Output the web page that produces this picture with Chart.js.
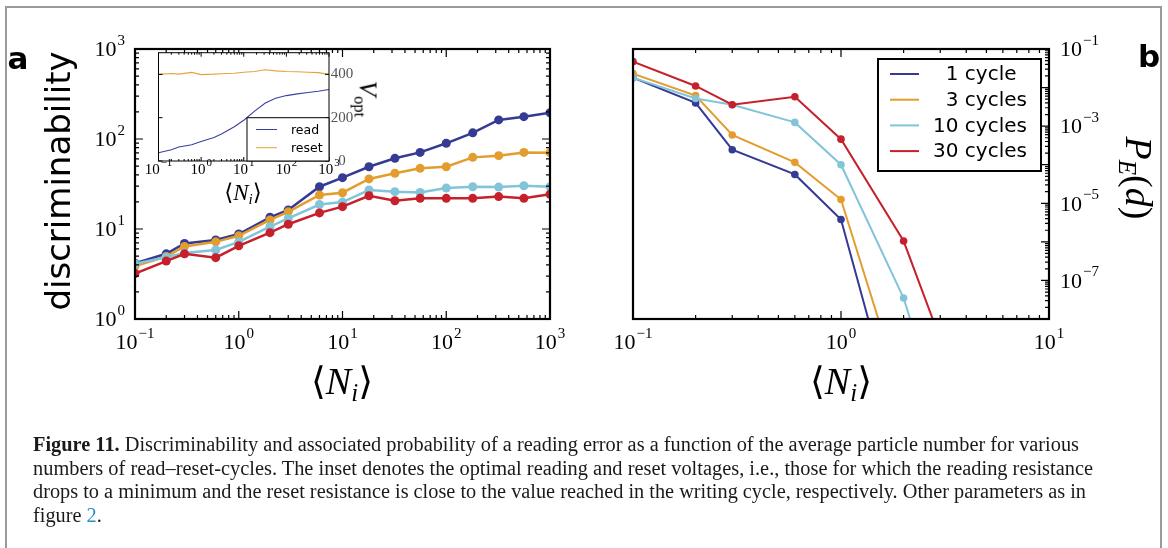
<!DOCTYPE html>
<html>
<head>
<meta charset="utf-8">
<script src="https://cdn.jsdelivr.net/npm/chart.js@4.4.1/dist/chart.umd.min.js"></script>
<style>
  html, body { margin: 0; padding: 0; background: #fff; }
  body { width: 1168px; height: 548px; position: relative; overflow: hidden; font-family: "DejaVu Sans", sans-serif; }
  canvas { position: absolute; left: 0; top: 0; }
  .frame { position: absolute; left: 5px; top: 6px; width: 1157px; height: 600px; border: 2px solid #9a9a9a; box-sizing: border-box; }
  .lbl { position: absolute; transform: translate(-50%, -50%); white-space: nowrap; line-height: 1; color: #000; }
  .math { font-family: "Liberation Serif", "DejaVu Serif", serif; }
  .math sub { font-size: 0.66em; vertical-align: -0.28em; line-height: 0; }
  .cap { position: absolute; left: 33px; font-family: "Liberation Serif", serif; font-size: 20.5px; line-height: 24px; white-space: nowrap; transform-origin: 0 0; color: #1a1a1a; }
  .cap a { color: #2a8fc4; text-decoration: none; }
</style>
</head>
<body>
<div class="frame"></div>
<canvas id="cA" width="1168" height="548"></canvas>
<canvas id="cB" width="1168" height="548"></canvas>
<canvas id="cIn" width="1168" height="548"></canvas>

<div class="lbl" style="left:18px;top:58px;font-weight:bold;font-size:31px;">a</div>
<div class="lbl" style="left:1149px;top:56px;font-weight:bold;font-size:31px;">b</div>
<div class="lbl" id="ylabA" style="left:58px;top:181px;font-size:34px;transform:translate(-50%,-50%) rotate(-90deg);">discriminability</div>
<div class="lbl math" style="left:1139px;top:178px;font-size:38px;transform:translate(-50%,-50%) rotate(90deg);"><i>P</i><sub><i>E</i></sub>(<i>d</i>)</div>
<div class="lbl math" style="left:342px;top:381px;font-size:38px;">⟨<i>N</i><sub><i>i</i></sub>⟩</div>
<div class="lbl math" style="left:841px;top:381px;font-size:38px;">⟨<i>N</i><sub><i>i</i></sub>⟩</div>
<div class="lbl math" style="left:243px;top:192px;font-size:23px;">⟨<i>N</i><sub><i>i</i></sub>⟩</div>
<div class="lbl math" style="left:368px;top:99px;font-size:25px;transform:translate(-50%,-50%) rotate(90deg);"><i>V</i><sub>opt</sub></div>

<div class="cap" data-w="1046" style="top:432px;"><b>Figure 11.</b> Discriminability and associated probability of a reading error as a function of the average particle number for various</div>
<div class="cap" data-w="1060" style="top:456px;">numbers of read–reset-cycles. The inset denotes the optimal reading and reset voltages, i.e., those for which the reading resistance</div>
<div class="cap" data-w="1053" style="top:479px;">drops to a minimum and the reset resistance is close to the value reached in the writing cycle, respectively. Other parameters as in</div>
<div class="cap" data-w="0" style="top:503px;">figure <a>2</a>.</div>

<script>
// ---------- DATA ----------
const nA = [0.1, 0.2, 0.3, 0.6, 1, 2, 3, 6, 10, 18, 32, 56, 100, 180, 320, 560, 1000];
const disc1 = [4.16, 5.3, 6.9, 7.55, 8.8, 13.5, 16.3, 29.5, 37.2, 49.2, 61, 71, 89.6, 117, 163, 177, 196];
const disc3 = [3.88, 4.95, 6.4, 7.2, 8.4, 12.6, 15.5, 23.9, 25.3, 36, 41.6, 47.2, 49.2, 62.5, 65.3, 71, 70.5];
const disc10 = [4.1, 4.85, 5.4, 5.85, 7.2, 10.6, 13.1, 18.7, 19.9, 27.1, 26, 25.5, 28.5, 29.5, 29.2, 30.2, 29.5];
const disc30 = [3.2, 4.4, 5.3, 4.8, 6.5, 9.1, 11.3, 15.1, 17.7, 23.4, 20.6, 21.9, 21.9, 21.9, 22.9, 21.9, 24.3];

const vRead = [38, 52, 65, 75, 90, 108, 125, 158, 188, 230, 268, 290, 302, 310, 316, 322, 330];
const vReset = [400, 404, 401, 409, 399, 401, 403, 405, 410, 413, 421, 416, 413, 412, 410, 408, 400];

const nB = [0.1, 0.2, 0.3, 0.6, 1, 2, 3];
const pe1 = [1.8e-2, 4e-3, 2.45e-4, 5.6e-5, 3.8e-6, 4.5e-12, null];
const pe3 = [2.3e-2, 6.2e-3, 5.9e-4, 1.15e-4, 1.25e-5, 8e-11, null];
const pe10 = [1.8e-2, 5.2e-3, 3.6e-3, 1.25e-3, 1.0e-4, 3.5e-8, 3e-11];
const pe30 = [4.7e-2, 1.1e-2, 3.6e-3, 5.8e-3, 4.6e-4, 1.05e-6, 3e-9];

const cycleLabels = ['  1 cycle', '  3 cycles', '10 cycles', '30 cycles'];
const cycleColors = ['#353a93', '#e39d2e', '#82c4d9', '#c6212b'];
const insetLabels = ['read', 'reset'];
const insetColors = ['#3b40a0', '#e5a23c'];

const expA_x = [-1, 0, 1, 2, 3];
const expA_y = [0, 1, 2, 3];
const expB_x = [-1, 0, 1];
const expB_y = [-1, -3, -5, -7];
const insetY = [0, 200, 400];

// ---------- HELPERS ----------
const SERIF = '"Liberation Serif", "DejaVu Serif", serif';

function logTicks(min, max) {
  const out = [];
  for (let d = Math.floor(Math.log10(min)); d <= Math.ceil(Math.log10(max)); d++) {
    for (let m = 1; m < 10; m++) {
      const v = m * Math.pow(10, d);
      if (v >= min * 0.999 && v <= max * 1.001) out.push({ v, major: m === 1 });
    }
  }
  return out;
}

function drawTicks(ctx, a, scale, ticks, sides, majLen, minLen) {
  ctx.beginPath();
  ticks.forEach(t => {
    const p = scale.getPixelForValue(t.v);
    const L = t.major ? majLen : minLen;
    sides.forEach(s => {
      if (s === 'bottom') { ctx.moveTo(p, a.bottom); ctx.lineTo(p, a.bottom - L); }
      if (s === 'top') { ctx.moveTo(p, a.top); ctx.lineTo(p, a.top + L); }
      if (s === 'left') { ctx.moveTo(a.left, p); ctx.lineTo(a.left + L, p); }
      if (s === 'right') { ctx.moveTo(a.right, p); ctx.lineTo(a.right - L, p); }
    });
  });
  ctx.stroke();
}

// "10" with a superscript exponent; y is the vertical centre of the "10"
function pow10(ctx, exp, x, y, size, align) {
  const e = exp < 0 ? '\u2212' + (-exp) : String(exp);
  const big = size + 'px ' + SERIF;
  const small = Math.round(size * 0.7) + 'px ' + SERIF;
  ctx.font = big; const wb = ctx.measureText('10').width;
  ctx.font = small; const we = ctx.measureText(e).width;
  const tot = wb + 1 + we;
  const x0 = align === 'center' ? x - tot / 2 : align === 'right' ? x - tot : x;
  const base = y + size * 0.33;
  ctx.fillStyle = '#000'; ctx.textAlign = 'left'; ctx.textBaseline = 'alphabetic';
  ctx.font = big; ctx.fillText('10', x0, base);
  ctx.font = small; ctx.fillText(e, x0 + wb + 1, base - size * 0.52);
}

function lineDs(label, xs, ys, color, extra) {
  return Object.assign({
    label: label,
    data: xs.map((x, i) => ({ x: x, y: ys[i] })),
    borderColor: color,
    backgroundColor: color,
    pointBackgroundColor: color,
    pointBorderWidth: 0,
    borderWidth: 2.5,
    pointRadius: 4.5,
    tension: 0,
    clip: 0
  }, extra || {});
}

const common = {
  responsive: false,
  animation: false,
  devicePixelRatio: 1,
  events: [],
  plugins: { legend: { display: false }, tooltip: { enabled: false } }
};

// ---------- PANEL A ----------
const axesA = {
  id: 'axesA',
  afterDatasetsDraw(chart) {
    const { ctx, chartArea: a, scales: { x, y } } = chart;
    ctx.save();
    ctx.strokeStyle = '#000';
    ctx.lineWidth = 1.2;
    drawTicks(ctx, a, x, logTicks(0.1, 1000), ['bottom', 'top'], 8, 4);
    drawTicks(ctx, a, y, logTicks(1, 1000), ['left', 'right'], 8, 4);
    ctx.lineWidth = 2.2;
    ctx.strokeRect(a.left, a.top, a.right - a.left, a.bottom - a.top);
    expA_x.forEach(e => pow10(ctx, e, x.getPixelForValue(Math.pow(10, e)), a.bottom + 23, 22, 'center'));
    expA_y.forEach(e => pow10(ctx, e, a.left - 10, y.getPixelForValue(Math.pow(10, e)), 22, 'right'));
    ctx.restore();
  }
};

new Chart(document.getElementById('cA'), {
  type: 'line',
  data: {
    datasets: [
      lineDs(cycleLabels[0], nA, disc1, cycleColors[0], { order: 3 }),
      lineDs(cycleLabels[1], nA, disc3, cycleColors[1], { order: 2 }),
      lineDs(cycleLabels[2], nA, disc10, cycleColors[2], { order: 1 }),
      lineDs(cycleLabels[3], nA, disc30, cycleColors[3], { order: 0 })
    ]
  },
  options: Object.assign({}, common, {
    layout: { padding: { left: 135, top: 49, right: 618, bottom: 229 } },
    scales: {
      x: { type: 'logarithmic', min: 0.1, max: 1000, display: false },
      y: { type: 'logarithmic', min: 1, max: 1000, display: false }
    }
  }),
  plugins: [axesA]
});

// ---------- PANEL B ----------
const axesB = {
  id: 'axesB',
  afterDatasetsDraw(chart) {
    const { ctx, chartArea: a, scales: { x, y } } = chart;
    ctx.save();
    ctx.strokeStyle = '#000';
    ctx.lineWidth = 1.2;
    drawTicks(ctx, a, x, logTicks(0.1, 10), ['bottom', 'top'], 8, 4);
    drawTicks(ctx, a, y, logTicks(1e-8, 0.1), ['right'], 8, 4);
    ctx.lineWidth = 2.2;
    ctx.strokeRect(a.left, a.top, a.right - a.left, a.bottom - a.top);
    expB_x.forEach(e => pow10(ctx, e, x.getPixelForValue(Math.pow(10, e)), a.bottom + 23, 22, 'center'));
    expB_y.forEach(e => pow10(ctx, e, a.right + 11, y.getPixelForValue(Math.pow(10, e)), 22, 'left'));

    // legend box
    const lx = 878, ly = 59, lw = 163, lh = 112;
    ctx.fillStyle = '#fff';
    ctx.fillRect(lx, ly, lw, lh);
    ctx.lineWidth = 2;
    ctx.strokeRect(lx, ly, lw, lh);
    ctx.font = '20px "DejaVu Sans", sans-serif';
    ctx.textAlign = 'left';
    ctx.textBaseline = 'middle';
    chart.data.datasets.forEach((ds, i) => {
      const ry = 74 + i * 25.7;
      ctx.strokeStyle = ds.borderColor;
      ctx.lineWidth = 2;
      ctx.beginPath(); ctx.moveTo(890, ry); ctx.lineTo(919, ry); ctx.stroke();
      ctx.fillStyle = '#000';
      ctx.fillText(ds.label, 933, ry + 1);
    });
    ctx.restore();
  }
};

new Chart(document.getElementById('cB'), {
  type: 'line',
  data: {
    datasets: [
      lineDs(cycleLabels[0], nB, pe1, cycleColors[0], { order: 3, borderWidth: 2, pointRadius: 3.8 }),
      lineDs(cycleLabels[1], nB, pe3, cycleColors[1], { order: 2, borderWidth: 2, pointRadius: 3.8 }),
      lineDs(cycleLabels[2], nB, pe10, cycleColors[2], { order: 1, borderWidth: 2, pointRadius: 3.8 }),
      lineDs(cycleLabels[3], nB, pe30, cycleColors[3], { order: 0, borderWidth: 2, pointRadius: 3.8 })
    ]
  },
  options: Object.assign({}, common, {
    layout: { padding: { left: 633, top: 49, right: 119, bottom: 229 } },
    scales: {
      x: { type: 'logarithmic', min: 0.1, max: 10, display: false },
      y: { type: 'logarithmic', min: 1e-8, max: 0.1, display: false }
    }
  }),
  plugins: [axesB]
});

// ---------- INSET ----------
const axesIn = {
  id: 'axesIn',
  beforeDatasetsDraw(chart) {
    const { ctx, chartArea: a } = chart;
    ctx.save();
    ctx.fillStyle = '#fff';
    ctx.fillRect(a.left, a.top, a.right - a.left, a.bottom - a.top);
    ctx.restore();
  },
  afterDatasetsDraw(chart) {
    const { ctx, chartArea: a, scales: { x, y } } = chart;
    ctx.save();
    ctx.strokeStyle = '#000';
    ctx.lineWidth = 1;
    drawTicks(ctx, a, x, logTicks(0.1, 1000), ['bottom', 'top'], 4, 2);
    drawTicks(ctx, a, y, insetY.map(v => ({ v, major: true })), ['left', 'right'], 4, 2);
    ctx.strokeRect(a.left, a.top, a.right - a.left, a.bottom - a.top);
    expA_x.forEach(e => pow10(ctx, e, x.getPixelForValue(Math.pow(10, e)), a.bottom + 8, 15, 'center'));
    ctx.font = '15px ' + SERIF;
    ctx.fillStyle = '#555';
    ctx.textAlign = 'center';
    ctx.textBaseline = 'middle';
    insetY.forEach(v => ctx.fillText(String(v), a.right + 13, y.getPixelForValue(v)));

    // legend
    const lx = 247, ly = 117.7, lw = a.right - 247, lh = a.bottom - 117.7;
    ctx.fillStyle = '#fff';
    ctx.fillRect(lx, ly, lw, lh);
    ctx.strokeStyle = '#000';
    ctx.strokeRect(lx, ly, lw, lh);
    ctx.font = '12.5px "DejaVu Sans", sans-serif';
    ctx.textAlign = 'left';
    chart.data.datasets.forEach((ds, i) => {
      const ry = 129.5 + i * 18.2;
      ctx.strokeStyle = ds.borderColor;
      ctx.lineWidth = 1;
      ctx.beginPath(); ctx.moveTo(256, ry); ctx.lineTo(277, ry); ctx.stroke();
      ctx.fillStyle = '#000';
      ctx.fillText(ds.label, 291, ry + 1);
    });
    ctx.restore();
  }
};

new Chart(document.getElementById('cIn'), {
  type: 'line',
  data: {
    datasets: [
      lineDs(insetLabels[0], nA, vRead, insetColors[0], { borderWidth: 1.1, pointRadius: 0 }),
      lineDs(insetLabels[1], nA, vReset, insetColors[1], { borderWidth: 1.1, pointRadius: 0 })
    ]
  },
  options: Object.assign({}, common, {
    layout: { padding: { left: 158.5, top: 52.7, right: 839, bottom: 387 } },
    scales: {
      x: { type: 'logarithmic', min: 0.1, max: 1000, display: false },
      y: { type: 'linear', min: 0, max: 500, display: false }
    }
  }),
  plugins: [axesIn]
});

// ---------- CAPTION WIDTH FIT ----------
let lastScale = 1;
document.querySelectorAll('.cap').forEach(el => {
  const target = Number(el.dataset.w);
  const w = el.getBoundingClientRect().width;
  const s = target > 0 ? target / w : lastScale;
  lastScale = s;
  el.style.transform = 'scaleX(' + s + ')';
});
</script>
</body>
</html>
